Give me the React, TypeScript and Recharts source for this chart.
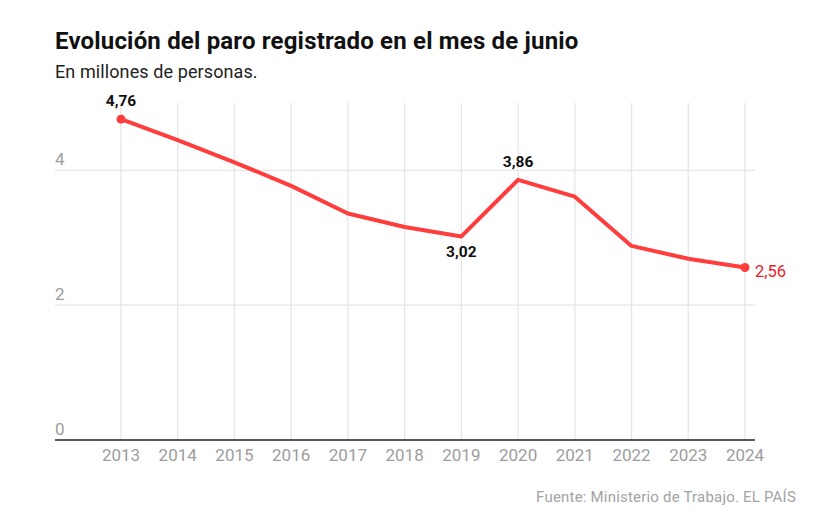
import { LineChart, Line, XAxis, YAxis, ReferenceLine, LabelList } from "recharts"

const years = ["2013", "2014", "2015", "2016", "2017", "2018", "2019", "2020", "2021", "2022", "2023", "2024"]
const paro = [4.76, 4.45, 4.12, 3.77, 3.36, 3.16, 3.02, 3.86, 3.61, 2.88, 2.69, 2.56]
// where each value label sits ("" = no label)
const labelPos = ["top", "", "", "", "", "", "bottom", "top", "", "", "", "right"]
const yTicks = [0, 2, 4]

const data = years.map((y, i) => ({ year: y, paro: paro[i] }))

const RED = "#ff3d3d"
const GRID = "#e6e6e6"
const FONT = "Roboto, 'Liberation Sans', sans-serif"
const LEFT = 55

const fmt = (v: number) => v.toFixed(2).replace(".", ",")

function XTick(props: any) {
    const { x, y, payload } = props
    return (
        <text x={x} y={y + 13} fill="#9d9d9d" fontSize={17} fontFamily={FONT} textAnchor="middle">
            {payload.value}
        </text>
    )
}

function YLabel(props: any) {
    const { viewBox, value } = props
    return (
        <text x={viewBox.x} y={viewBox.y - 5} fill="#9d9d9d" fontSize={17} fontFamily={FONT}>
            {value}
        </text>
    )
}

function EndDot(props: any) {
    const { cx, cy, index } = props
    if (index !== 0 && index !== paro.length - 1) return <g key={index} />
    return <circle key={index} cx={cx} cy={cy} r={4.5} fill={RED} />
}

function ValueLabel(props: any) {
    const { x, y, value, index } = props
    const pos = labelPos[index]
    if (!pos) return null
    if (pos === "right") {
        return (
            <text x={x + 10} y={y + 10} fill="#e8202a" fontSize={16.5} fontFamily={FONT}>
                {fmt(value)}
            </text>
        )
    }
    const dy = pos === "top" ? -13 : 21
    return (
        <text x={x} y={y + dy} fill="#111" fontSize={15.5} fontWeight={700} fontFamily={FONT} textAnchor="middle">
            {fmt(value)}
        </text>
    )
}

export default function App() {
    return (
        <div style={{ position: "absolute", left: 0, top: 0, width: 836, height: 528, background: "#fff", fontFamily: FONT }}>
            <div style={{ position: "absolute", left: LEFT, top: 27, fontSize: 24, fontWeight: 700, color: "#111", letterSpacing: 0.18 }}>
                Evolución del paro registrado en el mes de junio
            </div>
            <div style={{ position: "absolute", left: LEFT, top: 61, fontSize: 18, color: "#222", letterSpacing: 0.1 }}>
                En millones de personas.
            </div>
            <LineChart width={836} height={528} data={data} margin={{ top: 103, right: 81, bottom: 58, left: LEFT }}>
                <XAxis
                    dataKey="year"
                    padding={{ left: 66, right: 10 }}
                    height={30}
                    tickLine={false}
                    axisLine={false}
                    tick={<XTick />}
                    interval={0}
                />
                <YAxis domain={[0, 5]} ticks={yTicks} hide />
                {years.map((y) => (
                    <ReferenceLine key={y} x={y} stroke={GRID} strokeWidth={1.3} />
                ))}
                {yTicks.map((t) => (
                    <ReferenceLine
                        key={t}
                        y={t}
                        stroke={t === 0 ? "#222" : GRID}
                        strokeWidth={t === 0 ? 1.6 : 1.3}
                        label={<YLabel value={t} />}
                    />
                ))}
                <Line
                    dataKey="paro"
                    stroke={RED}
                    strokeWidth={4}
                    strokeLinejoin="round"
                    dot={<EndDot />}
                    activeDot={false}
                    isAnimationActive={false}
                >
                    <LabelList dataKey="paro" content={<ValueLabel />} />
                </Line>
            </LineChart>
            <div style={{ position: "absolute", right: 40, top: 488, fontSize: 15, color: "#a3a3a3", letterSpacing: 0.2 }}>
                Fuente: Ministerio de Trabajo. EL PAÍS
            </div>
        </div>
    )
}
